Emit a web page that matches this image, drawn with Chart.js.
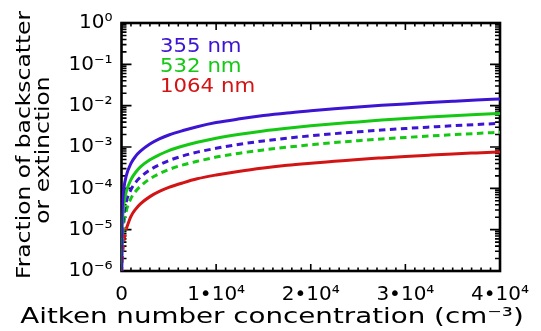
<!DOCTYPE html>
<html>
<head>
<meta charset="utf-8">
<script src="https://cdn.jsdelivr.net/npm/chart.js@4.4.1/dist/chart.umd.min.js"></script>
<style>
  html, body { margin: 0; padding: 0; background: #fff; }
  #wrap { width: 541px; height: 331px; }
</style>
</head>
<body>
<div id="wrap"><canvas id="fracChart" width="541" height="331"></canvas></div>
<script>
// Fraction of backscatter / extinction against Aitken number concentration
// solid = one quantity, dashed = the other, one colour per wavelength

const concentration = [2, 25, 100, 250, 500, 1000, 1500, 2000, 3000, 4000, 5000, 6500, 8000,
  10000, 12500, 15000, 17500, 20000, 22500, 25000, 27500, 30000, 32500, 35000, 37500, 40000];

const solid355 = [8e-7, 1.0e-5, 4.0e-5, 1.0e-4, 2.0e-4, 4.0e-4, 6.0e-4, 7.9e-4, 1.18e-3, 1.57e-3, 1.95e-3, 2.5e-3, 3.1e-3,
  3.9e-3, 4.8e-3, 5.75e-3, 6.65e-3, 7.5e-3, 8.4e-3, 9.3e-3, 1.02e-2, 1.1e-2, 1.19e-2, 1.28e-2, 1.37e-2, 1.45e-2];
const solid532 = [3.3e-7, 4.1e-6, 1.6e-5, 4.1e-5, 8.2e-5, 1.63e-4, 2.45e-4, 3.3e-4, 4.9e-4, 6.5e-4, 8.2e-4, 1.06e-3, 1.3e-3,
  1.63e-3, 2.04e-3, 2.45e-3, 2.85e-3, 3.25e-3, 3.65e-3, 4.05e-3, 4.5e-3, 4.9e-3, 5.3e-3, 5.7e-3, 6.1e-3, 6.5e-3];
const solid1064 = [null, null, null, null, 1.05e-5, 2.1e-5, 3.15e-5, 4.2e-5, 6.3e-5, 8.4e-5, 1.05e-4, 1.36e-4, 1.7e-4,
  2.1e-4, 2.6e-4, 3.1e-4, 3.6e-4, 4.05e-4, 4.5e-4, 5.0e-4, 5.45e-4, 5.9e-4, 6.35e-4, 6.8e-4, 7.2e-4, 7.6e-4];

const dashed355 = [1.9e-7, 2.3e-6, 9.3e-6, 2.3e-5, 4.7e-5, 9.3e-5, 1.4e-4, 1.87e-4, 2.8e-4, 3.7e-4, 4.7e-4, 6.1e-4, 7.5e-4,
  9.3e-4, 1.17e-3, 1.4e-3, 1.63e-3, 1.87e-3, 2.1e-3, 2.33e-3, 2.57e-3, 2.8e-3, 3.03e-3, 3.27e-3, 3.5e-3, 3.74e-3];
const dashed532 = [1.1e-7, 1.4e-6, 5.7e-6, 1.4e-5, 2.8e-5, 5.7e-5, 8.5e-5, 1.13e-4, 1.7e-4, 2.27e-4, 2.85e-4, 3.7e-4, 4.5e-4,
  5.7e-4, 7.1e-4, 8.5e-4, 9.9e-4, 1.13e-3, 1.28e-3, 1.42e-3, 1.56e-3, 1.7e-3, 1.84e-3, 1.98e-3, 2.13e-3, 2.27e-3];
const dashed1064 = [4e-8, 5e-7, 2.1e-6, 5.2e-6, 1.05e-5, null, null, null, null, null, null, null, null,
  null, null, null, null, null, null, null, null, null, null, null, null, null];

const legendLabels = ["355 nm", "532 nm", "1064 nm"];
const colors = ["#3c14d2", "#14c814", "#d21414"];

const xTickValues = [0, 10000, 20000, 30000, 40000];
const xTickLabels = ["0", "1•10⁴", "2•10⁴", "3•10⁴", "4•10⁴"];
const yTickValues = [1e-6, 1e-5, 1e-4, 1e-3, 1e-2, 1e-1, 1];
const yTickLabels = ["10⁻⁶", "10⁻⁵", "10⁻⁴", "10⁻³", "10⁻²", "10⁻¹", "10⁰"];

const xTitle = "Aitken number concentration (cm⁻³)";
const yTitle = ["Fraction of backscatter", "or extinction"];

const FONT = "'DejaVu Sans', sans-serif";

function toPoints(values) {
    return concentration.map((c, i) => ({ x: c, y: values[i] }));
}

function lineSet(values, color, dashed) {
    return {
        data: toPoints(values),
        borderColor: color,
        borderWidth: 3,
        borderDash: dashed ? [6.5, 4.5] : [],
        pointRadius: 0,
        cubicInterpolationMode: "monotone",
        spanGaps: false,
        fill: false
    };
}

// draws text squeezed/stretched sideways, the original font is very wide
function wideText(ctx, text, x, y, sx, size, color, align, angle) {
    ctx.save();
    ctx.translate(x, y);
    if (angle) ctx.rotate(angle);
    ctx.scale(sx, 1);
    ctx.font = size + "px " + FONT;
    ctx.fillStyle = color;
    ctx.textAlign = align;
    ctx.textBaseline = "middle";
    ctx.fillText(text, 0, 0);
    ctx.restore();
}

const framePlugin = {
    id: "frame",
    beforeDatasetsDraw(chart) {
        const { ctx, chartArea: a, scales } = chart;
        const x = scales.x, y = scales.y;
        ctx.save();
        ctx.strokeStyle = "#000";
        ctx.lineWidth = 1.6;
        ctx.beginPath();
        // ticks point inwards on all four sides
        for (let v = 0; v <= 40000; v += 1000) {
            const px = x.getPixelForValue(v);
            const len = v % 10000 === 0 ? 7 : 3.5;
            ctx.moveTo(px, a.bottom); ctx.lineTo(px, a.bottom - len);
            ctx.moveTo(px, a.top); ctx.lineTo(px, a.top + len);
        }
        for (let e = -6; e < 0; e++) {
            for (let k = 1; k < 10; k++) {
                const py = y.getPixelForValue(k * Math.pow(10, e));
                const len = k === 1 ? 10 : 5;
                ctx.moveTo(a.left, py); ctx.lineTo(a.left + len, py);
                ctx.moveTo(a.right, py); ctx.lineTo(a.right - len, py);
            }
        }
        ctx.stroke();
        ctx.lineWidth = 2.6;
        ctx.strokeRect(a.left, a.top, a.right - a.left, a.bottom - a.top);
        ctx.restore();
    },
    afterDraw(chart) {
        const { ctx, chartArea: a } = chart;
        // legend as coloured text inside the plot
        legendLabels.forEach((t, i) => {
            wideText(ctx, t, a.left + 38.5, a.top + 24 + i * 20, 1.12, 19, colors[i], "left");
        });
        wideText(ctx, xTitle, 272, 318, 1.32, 21, "#000", "center");
        wideText(ctx, yTitle[0], 25, 145, 1.17, 20, "#000", "center", -Math.PI / 2);
        wideText(ctx, yTitle[1], 44, 150, 1.17, 20, "#000", "center", -Math.PI / 2);
    }
};

new Chart(document.getElementById("fracChart"), {
    type: "line",
    data: {
        datasets: [
            lineSet(solid355, colors[0], false),
            lineSet(solid532, colors[1], false),
            lineSet(solid1064, colors[2], false),
            lineSet(dashed355, colors[0], true),
            lineSet(dashed532, colors[1], true),
            lineSet(dashed1064, colors[2], true)
        ]
    },
    options: {
        responsive: false,
        animation: false,
        devicePixelRatio: 1,
        layout: { padding: { left: 60, right: 32, top: 23, bottom: 0 } },
        plugins: { legend: { display: false }, tooltip: { enabled: false } },
        scales: {
            x: {
                type: "linear",
                min: 0,
                max: 40000,
                grid: { display: false, drawTicks: false },
                border: { display: false },
                afterBuildTicks: s => { s.ticks = xTickValues.map(v => ({ value: v })); },
                afterFit: s => { s.height = 60; },
                ticks: {
                    autoSkip: false,
                    maxRotation: 0,
                    padding: 12,
                    color: "#000",
                    font: { family: FONT, size: 20 },
                    callback: (v, i) => xTickLabels[i]
                }
            },
            y: {
                type: "logarithmic",
                min: 1e-6,
                max: 1,
                grid: { display: false, drawTicks: false },
                border: { display: false },
                afterBuildTicks: s => { s.ticks = yTickValues.map(v => ({ value: v })); },
                afterFit: s => { s.width = 61.5; },
                ticks: {
                    autoSkip: false,
                    padding: 9,
                    color: "#000",
                    font: { family: FONT, size: 20 },
                    callback: (v, i) => yTickLabels[i]
                }
            }
        }
    },
    plugins: [framePlugin]
});
</script>
</body>
</html>
